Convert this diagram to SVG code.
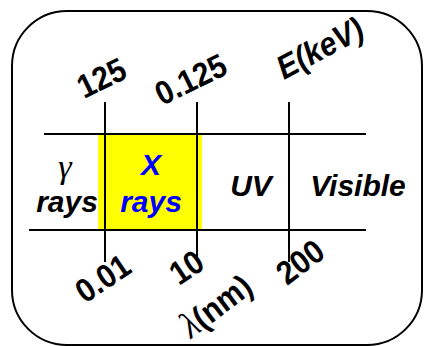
<svg xmlns="http://www.w3.org/2000/svg" width="424" height="346" viewBox="0 0 424 346">
<style>
.ln{stroke:#000;stroke-width:2;fill:none}
.lab{font-family:"Liberation Sans",Arial,sans-serif;font-weight:bold;font-size:30px;fill:#000}
.big{font-family:"Liberation Sans",Arial,sans-serif;font-weight:bold;font-style:italic;font-size:30px;fill:#000;text-anchor:middle}
.greek{font-family:"Liberation Serif","Times New Roman",serif;font-style:italic}
</style>
<rect width="424" height="346" fill="#fff"/>
<rect id="frame" x="12" y="11" width="410" height="334" rx="55" ry="55" class="ln"/>
<g id="xray-band"><rect x="98" y="134" width="104" height="96" fill="#ffff00"/></g>
<g id="connectors">
<line class="ln" x1="44" y1="134" x2="366" y2="134"/>
<line class="ln" x1="29" y1="230" x2="366" y2="230"/>
<line class="ln" x1="105" y1="102" x2="105" y2="262"/>
<line class="ln" x1="197" y1="102" x2="197" y2="258"/>
<line class="ln" x1="289" y1="102" x2="289" y2="262"/>
</g>
<g id="gamma"><text class="greek" x="65" y="178" font-size="34" text-anchor="middle">γ</text><text class="big" x="67" y="212">rays</text></g>
<g id="xrays"><text class="big" x="151" y="175" style="fill:#0000ff">X</text><text class="big" x="151" y="212" style="fill:#0000ff">rays</text></g>
<g id="uv"><text class="big" x="251" y="196">UV</text></g>
<g id="visible"><text class="big" x="358" y="196">Visible</text></g>
<g id="top-labels">
<text class="lab" transform="translate(84,99) rotate(-26) scale(1,1.1)">125</text>
<text class="lab" transform="translate(162,106) rotate(-26) scale(1,1.1)">0.125</text>
<text class="lab" font-style="italic" transform="translate(284,80) rotate(-28) scale(1,1.1)">E(keV)</text>
</g>
<g id="bottom-labels">
<text class="lab" transform="translate(85,304) rotate(-34) scale(1,1.1)">0.01</text>
<text class="lab" transform="translate(179,286) rotate(-34) scale(1,1.1)">10</text>
<text class="lab" transform="translate(191,339) rotate(-37) scale(1,1.1)"><tspan class="greek" font-weight="normal" font-size="34">λ</tspan>(nm)</text>
<text class="lab" transform="translate(287,286) rotate(-37) scale(1,1.1)">200</text>
</g>
</svg>
